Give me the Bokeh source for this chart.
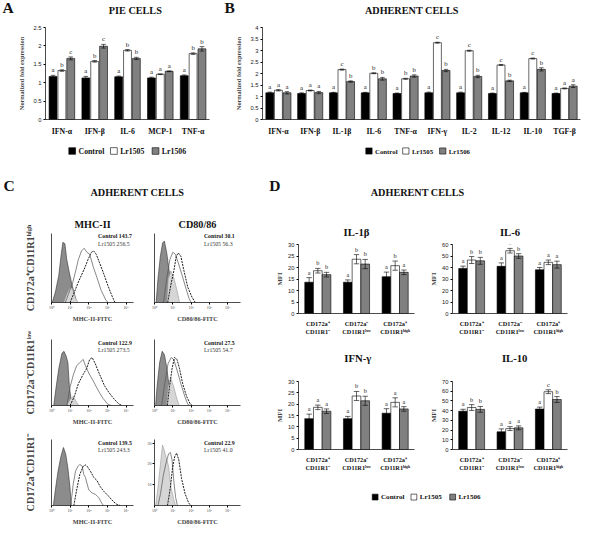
from bokeh.plotting import figure
from bokeh.models import (ColumnDataSource, FactorRange, Range1d, Label,
                          FixedTicker, NumeralTickFormatter)
from bokeh.layouts import row, column
from bokeh.transform import dodge
from bokeh.embed import file_html
from bokeh.resources import INLINE
from bokeh.core.properties import value

# ------------------------------------------------------------------ data
series_names = ["Control", "Lr1505", "Lr1506"]

# Panel A : PIE cells
a_cats = ["IFN-α", "IFN-β", "IL-6", "MCP-1", "TNF-α"]
a_control = [1.17, 1.13, 1.16, 1.13, 1.19]
a_lr1505 = [1.33, 1.58, 1.88, 1.23, 1.79]
a_lr1506 = [1.66, 1.99, 1.66, 1.31, 1.92]
a_err_control = [0.03, 0.04, 0.02, 0.02, 0.02]
a_err_lr1505 = [0.02, 0.02, 0.02, 0.01, 0.02]
a_err_lr1506 = [0.04, 0.05, 0.03, 0.01, 0.06]
a_let_control = ["a", "a", "a", "a", "a"]
a_let_lr1505 = ["b", "b", "b", "a", "b"]
a_let_lr1506 = ["c", "c", "b", "a", "b"]
a_yticks = [0, 0.5, 1, 1.5, 2, 2.5]

# Panel B : adherent cells
b_cats = ["IFN-α", "IFN-β", "IL-1β", "IL-6", "TNF-α", "IFN-γ", "IL-2", "IL-12", "IL-10", "TGF-β"]
b_control = [1.16, 1.13, 1.16, 1.16, 1.13, 1.16, 1.16, 1.13, 1.16, 1.13]
b_lr1505 = [1.27, 1.26, 2.17, 2.01, 1.77, 3.34, 2.99, 2.37, 2.65, 1.35]
b_lr1506 = [1.16, 1.17, 1.65, 1.77, 1.89, 2.13, 1.87, 1.68, 2.18, 1.45]
b_err_control = [0.03, 0.03, 0.02, 0.02, 0.02, 0.03, 0.03, 0.02, 0.02, 0.02]
b_err_lr1505 = [0.03, 0.02, 0.02, 0.02, 0.02, 0.02, 0.02, 0.02, 0.02, 0.02]
b_err_lr1506 = [0.05, 0.05, 0.03, 0.06, 0.05, 0.05, 0.05, 0.03, 0.07, 0.06]
b_let_control = ["a"] * 10
b_let_lr1505 = ["a", "a", "c", "b", "b", "c", "c", "c", "c", "a"]
b_let_lr1506 = ["a", "a", "b", "b", "b", "b", "b", "b", "b", "a"]
b_yticks = [0, 0.5, 1, 1.5, 2, 2.5, 3, 3.5, 4]

# Panel C : flow cytometry histograms (x = log10 fluorescence, y = relative count)
hist_xticks = [0, 1, 2, 3, 4]
hist_xlabels = ["10⁰", "10¹", "10²", "10³", "10⁴"]
row_labels = ["CD172a⁺CD11R1ʰⁱᵍʰ", "CD172a⁻CD11R1ˡᵒʷ", "CD172a⁺CD11R1⁻"]
col_titles = ["MHC-II", "CD80/86"]

mhc1_iso = [(0.04, 0), (0.21, 0.16), (0.39, 0.41), (0.53, 0.75), (0.61, 0.91), (0.72, 0.89),
            (0.82, 0.65), (0.95, 0.46), (1.09, 0.28), (1.23, 0.13), (1.35, 0)]
mhc1_light = [(0.65, 0), (0.82, 0.13), (1.0, 0.23), (1.12, 0.21), (1.3, 0.06), (1.44, 0)]
mhc1_control = [(0.74, 0), (0.91, 0.13), (1.12, 0.28), (1.3, 0.48), (1.44, 0.65), (1.61, 0.78),
                (1.75, 0.82), (1.9, 0.76), (2.05, 0.73), (2.23, 0.55), (2.46, 0.36), (2.67, 0.18),
                (2.93, 0.03), (3.05, 0)]
mhc1_lr1505 = [(1.0, 0), (1.23, 0.16), (1.47, 0.33), (1.75, 0.5), (1.96, 0.65), (2.14, 0.76),
               (2.26, 0.78), (2.4, 0.73), (2.58, 0.6), (2.81, 0.43), (3.02, 0.26), (3.23, 0.11),
               (3.4, 0)]

cd1_iso = [(0.09, 0), (0.19, 0.36), (0.32, 0.7), (0.44, 0.9), (0.54, 0.93), (0.67, 0.75),
           (0.79, 0.5), (0.93, 0.21), (1.0, 0)]
cd1_light = [(0.67, 0), (0.75, 0.36), (0.89, 0.48), (1.07, 0.36), (1.25, 0.16), (1.37, 0)]
cd1_control = [(0.49, 0), (0.67, 0.36), (0.84, 0.65), (1.0, 0.76), (1.14, 0.73), (1.3, 0.6),
               (1.49, 0.43), (1.72, 0.21), (1.89, 0.06), (2.0, 0)]
cd1_lr1505 = [(0.72, 0), (0.89, 0.26), (1.07, 0.5), (1.19, 0.7), (1.3, 0.75), (1.44, 0.7),
              (1.61, 0.48), (1.82, 0.23), (2.05, 0.08), (2.23, 0)]

mhc2_iso = [(0.12, 0), (0.25, 0.3), (0.39, 0.59), (0.56, 0.84), (0.67, 0.87), (0.79, 0.79),
            (0.88, 0.69), (0.96, 0.3), (1.05, 0.1), (1.12, 0)]
mhc2_light = [(0.82, 0), (1.0, 0.1), (1.18, 0.15), (1.35, 0.05), (1.47, 0)]
mhc2_control = [(0.82, 0), (1.0, 0.3), (1.18, 0.5), (1.35, 0.64), (1.53, 0.69), (1.7, 0.74),
                (1.82, 0.64), (2.0, 0.52), (2.23, 0.4), (2.49, 0.25), (2.75, 0.12), (3.02, 0.02),
                (3.19, 0)]
mhc2_lr1505 = [(1.0, 0), (1.23, 0.15), (1.44, 0.35), (1.7, 0.5), (1.88, 0.59), (2.05, 0.74),
               (2.18, 0.77), (2.35, 0.67), (2.58, 0.5), (2.84, 0.32), (3.1, 0.2), (3.37, 0.1),
               (3.63, 0.02), (3.8, 0)]

cd2_iso = [(0.06, 0), (0.14, 0.3), (0.28, 0.69), (0.42, 0.87), (0.54, 0.82), (0.68, 0.59),
           (0.8, 0.3), (0.93, 0)]
cd2_light = [(0.65, 0), (0.74, 0.3), (0.88, 0.45), (1.05, 0.3), (1.23, 0.1), (1.35, 0)]
cd2_control = [(0.39, 0), (0.56, 0.35), (0.74, 0.67), (0.91, 0.77), (1.05, 0.74), (1.23, 0.57),
               (1.44, 0.35), (1.65, 0.15), (1.82, 0.02), (1.93, 0)]
cd2_lr1505 = [(0.7, 0), (0.82, 0.3), (0.96, 0.59), (1.09, 0.77), (1.23, 0.74), (1.37, 0.59),
              (1.54, 0.35), (1.75, 0.15), (1.96, 0.02), (2.07, 0)]

mhc3_iso = [(0.1, 0), (0.23, 0.3), (0.35, 0.55), (0.5, 0.78), (0.64, 0.93), (0.76, 0.83),
            (0.88, 0.6), (0.99, 0.3), (1.06, 0)]
mhc3_light = []
mhc3_control = [(1.03, 0), (1.17, 0.35), (1.29, 0.55), (1.42, 0.63), (1.52, 0.66), (1.65, 0.63),
                (1.73, 0.5), (1.82, 0.45), (2.0, 0.25), (2.18, 0.2), (2.35, 0.18), (2.53, 0.13),
                (2.71, 0.03), (2.8, 0)]
mhc3_lr1505 = [(1.2, 0), (1.35, 0.25), (1.52, 0.5), (1.7, 0.63), (1.82, 0.65), (1.91, 0.63),
               (2.09, 0.55), (2.27, 0.45), (2.44, 0.4), (2.62, 0.3), (2.8, 0.23), (3.06, 0.15),
               (3.33, 0.06), (3.5, 0.02), (3.68, 0)]

cd3_iso = []
cd3_light = [(0.06, 0), (0.19, 8.7), (0.33, 20.4), (0.44, 29.1), (0.52, 27.0), (0.63, 23.4),
             (0.77, 18.9), (0.9, 8.7), (1.06, 2.7), (1.15, 0)]
cd3_control = [(0.19, 0), (0.33, 5.7), (0.48, 14.4), (0.63, 20.4), (0.77, 24.9), (0.87, 25.5),
               (0.96, 21.9), (1.06, 11.4), (1.15, 4.2), (1.25, 0)]
cd3_lr1505 = [(0.71, 0), (0.87, 8.7), (0.98, 17.7), (1.1, 23.4), (1.21, 25.2), (1.33, 21.9),
              (1.48, 12.9), (1.67, 5.7), (1.87, 1.2), (1.98, 0)]
cd3_yticks = [10, 20, 30]

mhc_stats_control = ["143.7", "122.9", "139.5"]
mhc_stats_lr1505 = ["256.5", "273.5", "243.3"]
cd_stats_control = ["30.1", "27.5", "22.9"]
cd_stats_lr1505 = ["56.3", "54.7", "41.0"]

# Panel D : MFI
d_groups = ["CD172a⁺\nCD11R1⁻", "CD172a⁻\nCD11R1ˡᵒʷ", "CD172a⁺\nCD11R1ʰⁱᵍʰ"]
il1b_control = [13.6, 13.6, 16.0]
il1b_lr1505 = [18.6, 23.6, 20.8]
il1b_lr1506 = [16.9, 21.5, 17.9]
il1b_err_control = [2.0, 1.0, 2.0]
il1b_err_lr1505 = [1.0, 2.0, 2.0]
il1b_err_lr1506 = [1.0, 2.0, 1.0]
il1b_let_control = ["a", "a", "a"]
il1b_let_lr1505 = ["b", "b", "b"]
il1b_let_lr1506 = ["b", "b", "a"]

il6_control = [39.2, 41.0, 38.0]
il6_lr1505 = [46.5, 54.6, 44.5]
il6_lr1506 = [45.8, 50.0, 42.5]
il6_err_control = [2.0, 3.0, 2.0]
il6_err_lr1505 = [3.0, 2.0, 2.0]
il6_err_lr1506 = [3.0, 2.0, 3.0]
il6_let_control = ["a", "a", "a"]
il6_let_lr1505 = ["b", "b", "a"]
il6_let_lr1506 = ["b", "b", "a"]

ifng_control = [13.6, 13.6, 16.0]
ifng_lr1505 = [18.6, 23.6, 20.8]
ifng_lr1506 = [16.9, 21.5, 17.9]
ifng_err_control = [2.0, 1.0, 2.0]
ifng_err_lr1505 = [1.0, 2.0, 2.0]
ifng_err_lr1506 = [1.0, 2.0, 1.0]
ifng_let_control = ["a", "a", "a"]
ifng_let_lr1505 = ["a", "b", "a"]
ifng_let_lr1506 = ["a", "b", "a"]

il10_control = [39.4, 18.2, 41.6]
il10_lr1505 = [43.2, 21.5, 59.5]
il10_lr1506 = [41.3, 22.3, 51.5]
il10_err_control = [2.0, 3.0, 2.0]
il10_err_lr1505 = [3.0, 2.0, 2.0]
il10_err_lr1506 = [3.0, 2.0, 3.0]
il10_let_control = ["a", "a", "a"]
il10_let_lr1505 = ["b", "a", "c"]
il10_let_lr1506 = ["b", "a", "b"]

d30_ticks = [0, 5, 10, 15, 20, 25, 30]
d60_ticks = [0, 10, 20, 30, 40, 50, 60]
d70_ticks = [0, 10, 20, 30, 40, 50, 60, 70]

# ------------------------------------------------------------------ styling helpers
S = 0.97
SERIF = "Liberation Serif"
SANS = "Liberation Sans"
COLORS = ["#000000", "#ffffff", "#808080"]


def P(v):
    return int(round(v * S))


def F(v):
    return f"{v * S:.1f}px"


def base_fig(box, frame, **kw):
    x0, y0, x1, y1 = box
    fx0, fy0, fx1, fy1 = frame
    p = figure(width=P(x1) - P(x0), height=P(y1) - P(y0), output_backend="svg",
               toolbar_location=None,
               min_border_left=P(fx0) - P(x0), min_border_right=P(x1) - P(fx1),
               min_border_top=P(fy0) - P(y0), min_border_bottom=P(y1) - P(fy1), **kw)
    p.outline_line_color = None
    p.xgrid.visible = False
    p.ygrid.visible = False
    return p


def set_title(p, text, size, standoff, offset=0):
    p.title.text = text
    p.title.align = "center"
    p.title.text_font = SERIF
    p.title.text_font_style = "bold"
    p.title.text_font_size = F(size)
    p.title.text_color = "#111111"
    p.title.standoff = standoff
    p.title.offset = offset


def style_axes(p):
    for ax in p.axis:
        ax.axis_line_color = "black"
        ax.axis_line_width = 0.7
        ax.major_tick_line_color = "black"
        ax.major_tick_out = 2
        ax.major_tick_in = 0
        ax.minor_tick_line_color = None
        ax.major_label_standoff = 2


def strip_fig(box):
    x0, y0, x1, y1 = box
    p = figure(width=P(x1) - P(x0), height=P(y1) - P(y0), output_backend="svg",
               toolbar_location=None, x_range=Range1d(x0, x1), y_range=Range1d(y1, y0),
               min_border=0, x_axis_location=None, y_axis_location=None)
    p.outline_line_color = None
    p.xgrid.visible = False
    p.ygrid.visible = False
    return p


def header_fig(box, items):
    p = strip_fig(box)
    for text, x, y, size, align in items:
        p.add_layout(Label(x=x, y=y, text=text, text_font=SERIF, text_font_style="bold",
                           text_font_size=F(size), text_align=align, text_baseline="middle",
                           text_color="#111111"))
    return p


def legend_strip(box, x_start, step, y, glyph, font):
    p = strip_fig(box)
    xs = [x_start + i * step for i in range(len(series_names))]
    p.rect(x=xs, y=[y] * len(xs), width=glyph, height=glyph, fill_color=COLORS,
           line_color="black", line_width=0.6)
    p.text(x=[x + glyph / 2 + 3 for x in xs], y=[y] * len(xs), text=series_names,
           text_baseline="middle", text_align="left", text_font=value(SERIF),
           text_font_style="bold", text_font_size=F(font), text_color="#111111")
    return p


def bar_fig(box, frame, cats, vals, errs, lets, ymax, yticks, bw, offs, capw,
            ylabel, xfont, yfont, letfont, ylabfont, ylab_standoff, x_standoff):
    p = base_fig(box, frame, x_range=FactorRange(*cats), y_range=Range1d(0, ymax))
    style_axes(p)
    p.yaxis.ticker = FixedTicker(ticks=yticks)
    p.yaxis.formatter = NumeralTickFormatter(format="0.[0]")
    p.yaxis.major_label_text_font = SANS
    p.yaxis.major_label_text_font_size = F(yfont)
    p.yaxis.major_label_text_color = "#222222"
    p.yaxis.axis_label = ylabel
    p.yaxis.axis_label_text_font = SERIF
    p.yaxis.axis_label_text_font_style = "bold"
    p.yaxis.axis_label_text_font_size = F(ylabfont)
    p.yaxis.axis_label_standoff = ylab_standoff
    p.xaxis.major_tick_line_color = None
    p.xaxis.major_label_text_font = SERIF
    p.xaxis.major_label_text_font_style = "bold"
    p.xaxis.major_label_text_font_size = F(xfont)
    p.xaxis.major_label_text_color = "#111111"
    p.xaxis.major_label_standoff = x_standoff
    for v, e, l, off, col in zip(vals, errs, lets, offs, COLORS):
        lo = [a - b for a, b in zip(v, e)]
        hi = [a + b for a, b in zip(v, e)]
        src = ColumnDataSource(dict(cat=cats, val=v, lo=lo, hi=hi, let=l))
        p.vbar(x=dodge("cat", off, range=p.x_range), top="val", width=bw, source=src,
               fill_color=col, line_color="black", line_width=0.6)
        p.segment(x0=dodge("cat", off, range=p.x_range), x1=dodge("cat", off, range=p.x_range),
                  y0="lo", y1="hi", source=src, line_color="black", line_width=0.6)
        for yy in ("lo", "hi"):
            p.segment(x0=dodge("cat", off - capw, range=p.x_range),
                      x1=dodge("cat", off + capw, range=p.x_range),
                      y0=yy, y1=yy, source=src, line_color="black", line_width=0.6)
        p.text(x=dodge("cat", off, range=p.x_range), y="hi", text="let", source=src,
               text_align="center", text_baseline="bottom", y_offset=-2,
               text_font=value(SERIF), text_font_size=F(letfont), text_color="#222222")
    return p


def pts_x(pts):
    return [q[0] for q in pts]


def pts_y(pts):
    return [q[1] for q in pts]


def hist_fig(box, frame, axis_top, xmax, iso, light, ctl, lr, ymax, yticks, xlabel, ylabel,
             stat_x, stat_ctl, stat_lr):
    fx0, fy0, fx1, fy1 = frame
    ytop = ymax * (fy1 - fy0) / (fy1 - axis_top)
    p = base_fig(box, frame, x_range=Range1d(0, xmax), y_range=Range1d(0, ytop))
    style_axes(p)
    p.xaxis.ticker = FixedTicker(ticks=hist_xticks)
    p.xaxis.major_label_overrides = dict(zip(hist_xticks, hist_xlabels))
    p.xaxis.major_label_text_font = SERIF
    p.xaxis.major_label_text_font_size = F(4)
    p.xaxis.major_label_standoff = 1
    p.xaxis.axis_label = xlabel
    p.xaxis.axis_label_text_font = SERIF
    p.xaxis.axis_label_text_font_style = "bold"
    p.xaxis.axis_label_text_font_size = F(6.5)
    p.xaxis.axis_label_standoff = 2
    p.yaxis.ticker = FixedTicker(ticks=yticks)
    p.yaxis.major_label_text_font = SERIF
    p.yaxis.major_label_text_font_size = F(4)
    p.yaxis.major_label_standoff = 1
    if ylabel:
        p.yaxis.axis_label = ylabel
        p.yaxis.axis_label_text_font = SERIF
        p.yaxis.axis_label_text_font_style = "bold"
        p.yaxis.axis_label_text_font_size = F(10.5)
        p.yaxis.axis_label_standoff = P(16)
    if iso:
        p.varea(x=pts_x(iso), y1=0, y2=pts_y(iso), fill_color="#8c8c8c")
        p.line(pts_x(iso), pts_y(iso), line_color="#333333", line_width=0.6)
    if light:
        p.varea(x=pts_x(light), y1=0, y2=pts_y(light), fill_color="#d6d6d6")
        p.line(pts_x(light), pts_y(light), line_color="#8a8a8a", line_width=0.5)
    p.line(pts_x(ctl), pts_y(ctl), line_color="#555555", line_width=0.7)
    p.line(pts_x(lr), pts_y(lr), line_color="#000000", line_width=0.9, line_dash="2 1")
    p.add_layout(Label(x=stat_x, y=ymax, text="Control " + stat_ctl, text_font=SERIF,
                       text_font_style="bold", text_font_size=F(6), text_baseline="middle",
                       text_color="#111111"))
    p.add_layout(Label(x=stat_x, y=ymax * 0.885, text="Lr1505 " + stat_lr, text_font=SERIF,
                       text_font_size=F(6), text_baseline="middle", text_color="#333333"))
    return p


def mfi_fig(box, frame, vals, errs, lets, ymax, yticks):
    return bar_fig(box, frame, d_groups, vals, errs, lets, ymax, yticks, 0.225,
                   [-0.225, 0, 0.225], 0.07, "MFI", 6.5, 6, 6.5, 7, 2, 4)


# ------------------------------------------------------------------ top header
h1 = header_fig((0, 0, 600, 20), [
    ("A", 2, 7, 16, "left"),
    ("PIE CELLS", 139, 10, 10.5, "center"),
    ("B", 231, 7, 16, "left"),
    ("ADHERENT CELLS", 424, 10, 10.5, "center"),
])

# ------------------------------------------------------------------ panel A / B
fa = bar_fig((0, 20, 225, 145), (46, 28, 215, 123), a_cats,
             [a_control, a_lr1505, a_lr1506],
             [a_err_control, a_err_lr1505, a_err_lr1506],
             [a_let_control, a_let_lr1505, a_let_lr1506],
             2.5, a_yticks, 0.24, [-0.27, 0, 0.27], 0.07,
             "Normalized fold expression", 8, 6, 7, 6.5, 5, 5)
fb = bar_fig((225, 20, 600, 145), (270, 25, 598, 123), b_cats,
             [b_control, b_lr1505, b_lr1506],
             [b_err_control, b_err_lr1505, b_err_lr1506],
             [b_let_control, b_let_lr1505, b_let_lr1506],
             4, b_yticks, 0.25, [-0.27, 0, 0.27], 0.07,
             "Normalized fold expression", 8, 6, 7, 6.5, 5, 5)
la = legend_strip((0, 145, 225, 165), 74, 43, 155, 7, 8)
lb = legend_strip((225, 145, 600, 165), 380, 38, 155, 6.5, 7)

# ------------------------------------------------------------------ middle header
h2 = header_fig((0, 165, 600, 215), [
    ("C", 3, 191, 16, "left"),
    ("ADHERENT CELLS", 141, 198, 10.5, "center"),
    ("D", 277, 191, 16, "left"),
    ("ADHERENT CELLS", 430, 198, 10.5, "center"),
])

# ------------------------------------------------------------------ panel C
rows_y = [(215, 340, 240, 243, 311), (340, 440, 349, 353, 420), (440, 543, 453, 457, 525)]
mhc_sets = [(mhc1_iso, mhc1_light, mhc1_control, mhc1_lr1505),
            (mhc2_iso, mhc2_light, mhc2_control, mhc2_lr1505),
            (mhc3_iso, mhc3_light, mhc3_control, mhc3_lr1505)]
cd_sets = [(cd1_iso, cd1_light, cd1_control, cd1_lr1505, 1.0, []),
           (cd2_iso, cd2_light, cd2_control, cd2_lr1505, 1.0, []),
           (cd3_iso, cd3_light, cd3_control, cd3_lr1505, 30.0, cd3_yticks)]
c_rows = []
for i in range(3):
    y0, y1, ftop, atop, fy1 = rows_y[i]
    iso, lt, ctl, lr = mhc_sets[i]
    pm = hist_fig((0, y0, 140, y1), (53, ftop, 137, fy1), atop, 4.4, iso, lt, ctl, lr, 1.0, [],
                  "MHC-II-FITC", row_labels[i], 2.5, mhc_stats_control[i], mhc_stats_lr1505[i])
    iso, lt, ctl, lr, ymax, yt = cd_sets[i]
    pc = hist_fig((140, y0, 278, y1), (159, ftop, 247, fy1), atop, 4.7, iso, lt, ctl, lr, ymax,
                  yt, "CD80/86-FITC", None, 2.7, cd_stats_control[i], cd_stats_lr1505[i])
    if i == 0:
        set_title(pm, col_titles[0], 10.5, 8, -P(9))
        set_title(pc, col_titles[1], 10.5, 8, -P(6))
    c_rows.append(row(pm, pc))
c_col = column(*c_rows)

# ------------------------------------------------------------------ panel D
d1 = mfi_fig((278, 215, 440, 358), (307, 252, 427, 323),
             [il1b_control, il1b_lr1505, il1b_lr1506],
             [il1b_err_control, il1b_err_lr1505, il1b_err_lr1506],
             [il1b_let_control, il1b_let_lr1505, il1b_let_lr1506], 30, d30_ticks)
set_title(d1, "IL-1β", 11, 13)
d2 = mfi_fig((440, 215, 600, 358), (463, 252, 585, 323),
             [il6_control, il6_lr1505, il6_lr1506],
             [il6_err_control, il6_err_lr1505, il6_err_lr1506],
             [il6_let_control, il6_let_lr1505, il6_let_lr1506], 60, d60_ticks)
set_title(d2, "IL-6", 11, 13)
h3 = header_fig((278, 358, 600, 376), [
    ("IFN-γ", 368, 368, 11, "center"),
    ("IL-10", 530, 368, 11, "center"),
])
d3 = mfi_fig((278, 376, 440, 490), (307, 393, 427, 463),
             [ifng_control, ifng_lr1505, ifng_lr1506],
             [ifng_err_control, ifng_err_lr1505, ifng_err_lr1506],
             [ifng_let_control, ifng_let_lr1505, ifng_let_lr1506], 30, d30_ticks)
d4 = mfi_fig((440, 376, 600, 490), (463, 380, 585, 466),
             [il10_control, il10_lr1505, il10_lr1506],
             [il10_err_control, il10_err_lr1505, il10_err_lr1506],
             [il10_let_control, il10_let_lr1505, il10_let_lr1506], 70, d70_ticks)
ld = legend_strip((278, 490, 600, 543), 386, 40, 512, 6, 7.3)

d_col = column(row(d1, d2), h3, row(d3, d4), ld)

layout = column(h1, row(fa, fb), row(la, lb), h2, row(c_col, d_col))

open("out.html", "w").write(file_html(layout, INLINE, "Figure"))
